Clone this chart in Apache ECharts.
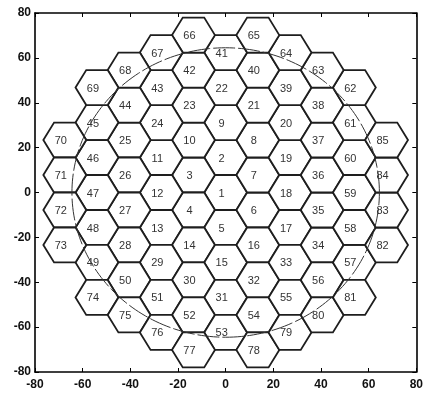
<!DOCTYPE html>
<html>
<head>
<meta charset="utf-8">
<script src="https://cdn.jsdelivr.net/npm/echarts@6/dist/echarts.min.js"></script>
<style>
  html, body { margin: 0; padding: 0; background: #fff; }
  #chart { width: 426px; height: 394px; }
</style>
</head>
<body>
<div id="chart"></div>
<script>
// hexagon numbers and their grid position (column, row in cell heights)
const hexIds = [
  1, 2, 3, 4, 5, 6, 7,
  8, 9, 10, 11, 12, 13, 14, 15, 16, 17, 18, 19,
  20, 21, 22, 23, 24, 25, 26, 27, 28, 29, 30, 31, 32, 33, 34, 35, 36, 37,
  38, 39, 40, 41, 42, 43, 44, 45, 46, 47, 48, 49, 50, 51, 52, 53, 54, 55, 56, 57, 58, 59, 60, 61,
  62, 63, 64, 65, 66, 67, 68, 69, 70, 71, 72, 73, 74, 75, 76, 77, 78, 79, 80, 81, 82, 83, 84, 85
]
const hexCol = [
  0, 0, -1, -1, 0, 1, 1,
  1, 0, -1, -2, -2, -2, -1, 0, 1, 2, 2, 2,
  2, 1, 0, -1, -2, -3, -3, -3, -3, -2, -1, 0, 1, 2, 3, 3, 3, 3,
  3, 2, 1, 0, -1, -2, -3, -4, -4, -4, -4, -4, -3, -2, -1, 0, 1, 2, 3, 4, 4, 4, 4, 4,
  4, 3, 2, 1, -1, -2, -3, -4, -5, -5, -5, -5, -4, -3, -2, -1, 1, 2, 3, 4, 5, 5, 5, 5
]
const hexRow = [
  0, 1, 0.5, -0.5, -1, -0.5, 0.5,
  1.5, 2, 1.5, 1, 0, -1, -1.5, -2, -1.5, -1, 0, 1,
  2, 2.5, 3, 2.5, 2, 1.5, 0.5, -0.5, -1.5, -2, -2.5, -3, -2.5, -2, -1.5, -0.5, 0.5, 1.5,
  2.5, 3, 3.5, 4, 3.5, 3, 2.5, 2, 1, 0, -1, -2, -2.5, -3, -3.5, -4, -3.5, -3, -2.5, -2, -1, 0, 1, 2,
  3, 3.5, 4, 4.5, 4.5, 4, 3.5, 3, 1.5, 0.5, -0.5, -1.5, -3, -3.5, -4, -4.5, -4.5, -4, -3.5, -3, -1.5, -0.5, 0.5, 1.5
]
const hexRadius = 9          // centre to corner
const circleRadius = 64.5    // dashed outline
const axisTicks = [-80, -60, -40, -20, 0, 20, 40, 60, 80]

const chart = echarts.init(document.getElementById('chart'))

const colStep = hexRadius * 1.5
const rowStep = hexRadius * Math.sqrt(3)
const hexData = hexIds.map((id, i) => [hexCol[i] * colStep, hexRow[i] * rowStep, id])

const font = '"Liberation Sans", Arial, sans-serif'

function renderHex(params, api) {
  const cx = api.value(0)
  const cy = api.value(1)
  const pts = []
  for (let k = 0; k < 6; k++) {
    const a = Math.PI / 3 * k
    pts.push(api.coord([cx + hexRadius * Math.cos(a), cy + hexRadius * Math.sin(a)]))
  }
  const c = api.coord([cx, cy])
  return {
    type: 'group',
    children: [
      {
        type: 'polygon',
        shape: { points: pts },
        style: { fill: '#fff', stroke: '#1e1e1e', lineWidth: 1.8 }
      },
      {
        type: 'text',
        x: c[0] - 4,
        y: c[1] + 1,
        style: {
          text: String(api.value(2)),
          fill: '#333',
          font: '11px ' + font,
          align: 'center',
          verticalAlign: 'middle'
        }
      }
    ]
  }
}

function renderCircle(params, api) {
  const pts = []
  for (let k = 0; k <= 240; k++) {
    const a = Math.PI * 2 * k / 240
    pts.push(api.coord([circleRadius * Math.cos(a), circleRadius * Math.sin(a)]))
  }
  return {
    type: 'polyline',
    shape: { points: pts },
    style: { fill: null, stroke: '#333', lineWidth: 1, lineDash: [22, 3] }
  }
}

const axisBase = {
  type: 'value',
  min: axisTicks[0],
  max: axisTicks[axisTicks.length - 1],
  interval: 20,
  splitLine: { show: false },
  axisLine: { show: true, onZero: false, lineStyle: { color: '#000', width: 1.6 } },
  axisTick: { show: true, inside: true, length: 4, lineStyle: { color: '#000' } }
}
const labelStyle = { color: '#111', fontSize: 12, fontWeight: 'bold', fontFamily: font }

chart.setOption({
  animation: false,
  backgroundColor: '#fff',
  grid: { left: 35, right: 4, top: 13, bottom: 22 },
  xAxis: [
    { ...axisBase, position: 'bottom', axisLabel: { ...labelStyle, margin: 7 } },
    { ...axisBase, position: 'top', axisLabel: { show: false } }
  ],
  yAxis: [
    { ...axisBase, position: 'left', axisLabel: { ...labelStyle, margin: 4 } },
    { ...axisBase, position: 'right', axisLabel: { show: false } }
  ],
  series: [
    {
      type: 'custom',
      renderItem: renderHex,
      data: hexData,
      clip: false
    },
    {
      type: 'custom',
      renderItem: renderCircle,
      data: [[0, 0]],
      z: 3
    }
  ]
})
</script>
</body>
</html>
